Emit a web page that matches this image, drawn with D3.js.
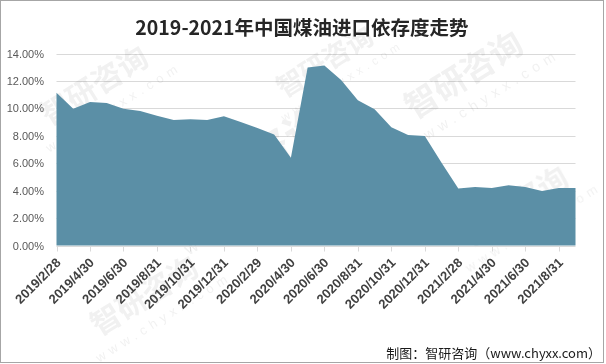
<!DOCTYPE html>
<html>
<head>
<meta charset="utf-8">
<script src="https://cdn.jsdelivr.net/npm/d3@7"></script>
<style>
  body { margin: 0; background: #fff; }
  svg { display: block; font-family: "Liberation Sans", "Noto Sans CJK SC", sans-serif; }
</style>
</head>
<body>
<script>
// categories (month ends) and values
const months = [
  '2019/2/28', '2019/3/31', '2019/4/30', '2019/5/31', '2019/6/30', '2019/7/31',
  '2019/8/31', '2019/9/30', '2019/10/31', '2019/11/30', '2019/12/31', '2020/1/31',
  '2020/2/29', '2020/3/31', '2020/4/30', '2020/5/31', '2020/6/30', '2020/7/31',
  '2020/8/31', '2020/9/30', '2020/10/31', '2020/11/30', '2020/12/31', '2021/1/31',
  '2021/2/28', '2021/3/31', '2021/4/30', '2021/5/31', '2021/6/30', '2021/7/31',
  '2021/8/31', '2021/9/30'
];
const values = [
  11.13, 9.97, 10.46, 10.39, 9.97, 9.8, 9.46, 9.15, 9.2, 9.15, 9.42, 9.0,
  8.57, 8.1, 6.4, 12.98, 13.13, 12.06, 10.6, 9.93, 8.63, 8.06, 7.98, 6.03,
  4.15, 4.27, 4.2, 4.39, 4.27, 3.98, 4.2, 4.2
];
const yTicks = [0, 2, 4, 6, 8, 10, 12, 14];
const title = '2019-2021年中国煤油进口依存度走势';
const source = '制图：智研咨询（www.chyxx.com）';

const width = 606;
const height = 364;
const margin = { top: 53.5, right: 30.5, bottom: 118.5, left: 56.5 };

const svg = d3.select('body').append('svg').attr('width', width).attr('height', height);

// outer border
svg.append('rect')
  .attr('x', 0.5).attr('y', 0.5)
  .attr('width', width - 3).attr('height', height - 2)
  .attr('fill', 'none').attr('stroke', '#a6a6a6');

const x = d3.scalePoint().domain(months).range([margin.left, width - margin.right]);
const y = d3.scaleLinear().domain([0, 14]).range([height - margin.bottom, margin.top]);

// grid lines
svg.append('g')
  .selectAll('line')
  .data(yTicks.filter(d => d > 0))
  .join('line')
    .attr('x1', margin.left).attr('x2', width - margin.right)
    .attr('y1', d => Math.round(y(d)) + 0.5).attr('y2', d => Math.round(y(d)) + 0.5)
    .attr('stroke', '#d9d9d9');

// watermarks, kept inside the frame
const marks = [
  [100, 95, 1], [260, 175, 1.4], [470, 85, 1.1], [520, 215, 1],
  [150, 305, 1], [330, 70, 0.9]
];
const wm = svg.append('g').attr('opacity', 0.07);
marks.forEach(([mx, my, s]) => {
  const g = wm.append('g').attr('transform', `translate(${mx},${my}) rotate(-32) scale(${s})`);
  g.append('text').attr('x', 0).attr('y', 0)
    .attr('font-size', 30).attr('font-family', 'Noto Sans CJK SC').attr('font-weight', 'bold')
    .attr('fill', '#333').attr('text-anchor', 'middle').text('智研咨询');
  g.append('text').attr('x', 5).attr('y', 22)
    .attr('font-size', 13).attr('letter-spacing', 5)
    .attr('fill', '#333').attr('text-anchor', 'middle').text('www.chyxx.com');
});

// area
const area = d3.area()
  .x((d, i) => x(months[i]))
  .y0(y(0))
  .y1(d => y(d));

svg.append('path')
  .datum(values)
  .attr('d', area)
  .attr('fill', '#5b8fa6');

// y axis labels
svg.append('g')
  .selectAll('text')
  .data(yTicks)
  .join('text')
    .attr('x', 44)
    .attr('y', d => y(d) + 4)
    .attr('text-anchor', 'end')
    .attr('font-size', 11)
    .attr('fill', '#595959')
    .text(d => d.toFixed(2) + '%');

// x axis line and ticks
const axisY = Math.round(y(0)) + 0.5;
svg.append('line')
  .attr('x1', margin.left).attr('x2', width - margin.right)
  .attr('y1', axisY).attr('y2', axisY)
  .attr('stroke', '#d9d9d9');

const shown = months.filter((d, i) => i % 2 === 0);
svg.append('g')
  .selectAll('line')
  .data(shown)
  .join('line')
    .attr('x1', d => Math.round(x(d)) + 0.5).attr('x2', d => Math.round(x(d)) + 0.5)
    .attr('y1', axisY).attr('y2', axisY + 5)
    .attr('stroke', '#d9d9d9');

svg.append('g')
  .selectAll('text')
  .data(shown)
  .join('text')
    .attr('transform', d => `translate(${x(d) + 5},${axisY + 17}) rotate(-45)`)
    .attr('text-anchor', 'end')
    .attr('font-size', 13)
    .attr('font-weight', 'bold')
    .attr('fill', '#404040')
    .text(d => d);

// title
svg.append('text')
  .attr('x', 302).attr('y', 35)
  .attr('text-anchor', 'middle')
  .attr('font-size', 19.5)
  .attr('font-weight', 'bold')
  .attr('font-family', '"Noto Sans CJK SC", sans-serif')
  .attr('fill', '#262626')
  .text(title);

// source note
svg.append('text')
  .attr('x', 601).attr('y', 358)
  .attr('text-anchor', 'end')
  .attr('font-size', 13)
  .attr('font-family', '"Noto Sans CJK SC", sans-serif')
  .attr('fill', '#1a1a1a')
  .text(source);
</script>
</body>
</html>
